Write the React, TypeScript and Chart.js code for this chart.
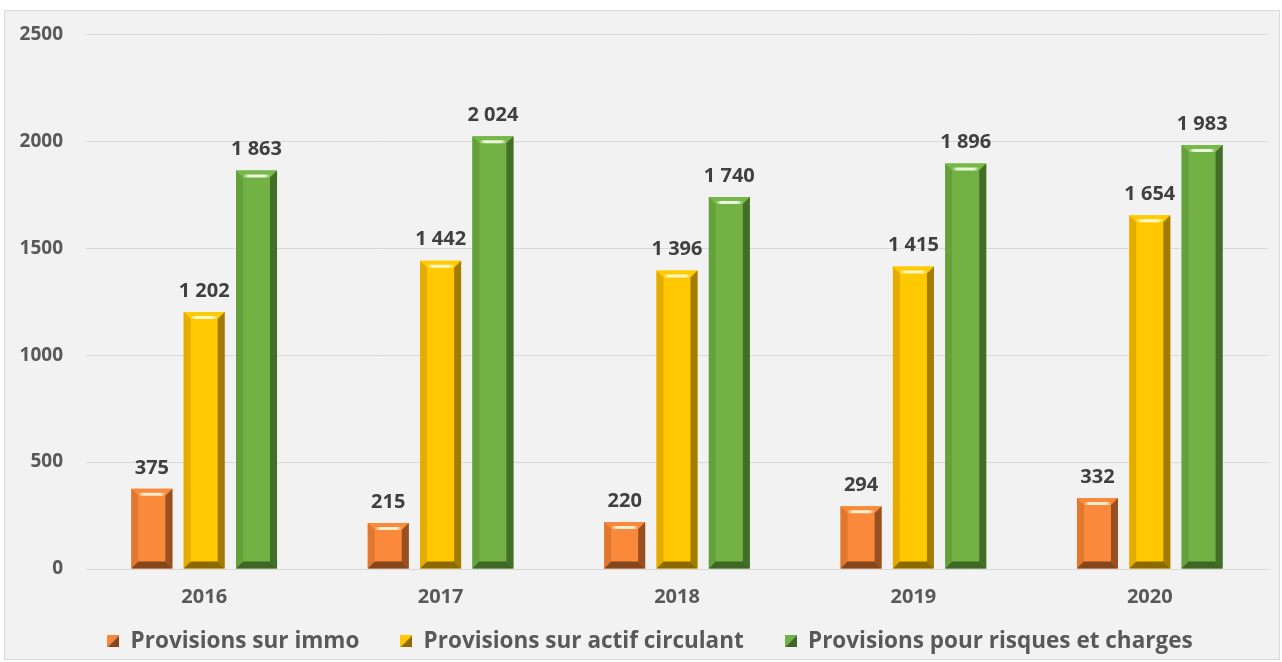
import React, { useEffect, useRef } from 'react';
import { Chart, registerables } from 'chart.js';

Chart.register(...registerables);

// ---- data ----
const years = ['2016', '2017', '2018', '2019', '2020'];
const provisionsImmo = [375, 215, 220, 294, 332];
const provisionsActif = [1202, 1442, 1396, 1415, 1654];
const provisionsRisques = [1863, 2024, 1740, 1896, 1983];
const seriesNames = [
  'Provisions sur immo',
  'Provisions sur actif circulant',
  'Provisions pour risques et charges',
];
const yMax = 2500;
const yStep = 500;

// ---- styles ----
const FONT = "'Open Sans', sans-serif";
const palettes = [
  { face: '#FA893B', top: '#F98A3A', hi: '#FFEFD0', left: '#E0772F', right: '#985020', bottom: '#86461B' },
  { face: '#FFC800', top: '#FFCB05', hi: '#FFF8C8', left: '#E4AC00', right: '#A27C00', bottom: '#8C6A00' },
  { face: '#72B245', top: '#78B84A', hi: '#EAF6DC', left: '#64A03B', right: '#426E28', bottom: '#3E6625' },
];

function fmt(v: number): string {
  return String(v).replace(/\B(?=(\d{3})+(?!\d))/g, ' ');
}

function makeMarker(p: { face: string; bottom: string }): HTMLCanvasElement {
  const c = document.createElement('canvas');
  c.width = 12;
  c.height = 12;
  const g = c.getContext('2d')!;
  g.fillStyle = p.face;
  g.beginPath();
  g.moveTo(0, 0); g.lineTo(12, 0); g.lineTo(0, 12); g.closePath();
  g.fill();
  g.fillStyle = p.bottom;
  g.beginPath();
  g.moveTo(12, 0); g.lineTo(12, 12); g.lineTo(0, 12); g.closePath();
  g.fill();
  return c;
}

function poly(ctx: CanvasRenderingContext2D, pts: number[][], color: string | CanvasGradient) {
  ctx.beginPath();
  ctx.moveTo(pts[0][0], pts[0][1]);
  for (let i = 1; i < pts.length; i++) ctx.lineTo(pts[i][0], pts[i][1]);
  ctx.closePath();
  ctx.fillStyle = color;
  ctx.fill();
}

const bevelPlugin = {
  id: 'bevel',
  afterDatasetsDraw(chart: any) {
    const ctx: CanvasRenderingContext2D = chart.ctx;
    ctx.save();
    chart.data.datasets.forEach((_ds: any, di: number) => {
      const meta = chart.getDatasetMeta(di);
      const pal = palettes[di];
      meta.data.forEach((bar: any) => {
        const { x, y, base, width } = bar.getProps(['x', 'y', 'base', 'width'], true);
        const l = x - width / 2;
        const r = x + width / 2;
        const t = Math.min(y, base);
        const bt = Math.max(y, base);
        const b = Math.min(7, width / 4, (bt - t) / 3);
        poly(ctx, [[l, t], [r, t], [r - b, t + b], [l + b, t + b]], pal.top);
        poly(ctx, [[l, t], [l + b, t + b], [l + b, bt - b], [l, bt]], pal.left);
        poly(ctx, [[r, t], [r, bt], [r - b, bt - b], [r - b, t + b]], pal.right);
        poly(ctx, [[l, bt], [l + b, bt - b], [r - b, bt - b], [r, bt]], pal.bottom);
        const grad = ctx.createLinearGradient(l + b, 0, r - b, 0);
        grad.addColorStop(0, 'rgba(255,255,255,0)');
        grad.addColorStop(0.2, pal.hi);
        grad.addColorStop(0.8, pal.hi);
        grad.addColorStop(1, 'rgba(255,255,255,0)');
        poly(ctx, [[l + b - 1, t + b - 3], [r - b + 1, t + b - 3], [r - b, t + b], [l + b, t + b]], grad);
      });
    });
    ctx.restore();
  },
};

const labelPlugin = {
  id: 'valueLabels',
  afterDatasetsDraw(chart: any) {
    const ctx: CanvasRenderingContext2D = chart.ctx;
    ctx.save();
    ctx.font = `bold 20px ${FONT}`;
    ctx.fillStyle = '#404040';
    ctx.textAlign = 'center';
    ctx.textBaseline = 'middle';
    chart.data.datasets.forEach((ds: any, di: number) => {
      const meta = chart.getDatasetMeta(di);
      meta.data.forEach((bar: any, i: number) => {
        const { x, y } = bar.getProps(['x', 'y'], true);
        ctx.fillText(fmt(ds.data[i]), x, y - 21);
      });
    });
    ctx.restore();
  },
};

// move the legend up/right to sit where the reference has it
const legendShiftPlugin = {
  id: 'legendShift',
  afterLayout(chart: any) {
    const lg = chart.legend;
    if (!lg) return;
    lg.top -= 20;
    lg.height += 20;
    lg.left += 16;
    lg.right += 16;
  },
};

export default function App() {
  const ref = useRef<HTMLCanvasElement>(null);

  useEffect(() => {
    if (!ref.current) return;
    const series = [provisionsImmo, provisionsActif, provisionsRisques];
    const chart = new Chart(ref.current, {
      type: 'bar',
      data: {
        labels: years,
        datasets: series.map((d, i) => ({
          label: seriesNames[i],
          data: d,
          backgroundColor: palettes[i].face,
          borderWidth: 0,
          categoryPercentage: 0.664,
          barPercentage: 0.784,
          pointStyle: makeMarker(palettes[i]) as any,
        })),
      },
      options: {
        responsive: false,
        animation: false,
        layout: { padding: { left: 0, right: 14, top: 32, bottom: 0 } },
        plugins: {
          tooltip: { enabled: false },
          legend: {
            position: 'bottom',
            maxHeight: 53,
            labels: {
              usePointStyle: true,
              boxWidth: 12,
              boxHeight: 12,
              padding: 41,
              color: '#595959',
              font: { family: FONT, size: 22.5, weight: 'bold' },
            },
          },
        },
        scales: {
          x: {
            grid: { display: false, drawTicks: false },
            border: { display: false },
            ticks: {
              color: '#595959',
              padding: 16,
              font: { family: FONT, size: 20, weight: 'bold' },
            },
            afterFit: (s: any) => { s.height = 40; },
          },
          y: {
            min: 0,
            max: yMax,
            ticks: {
              stepSize: yStep,
              padding: 23,
              color: '#595959',
              font: { family: FONT, size: 19, weight: 'bold' },
              callback: (v: any) => String(v),
            },
            grid: { color: '#d9d9d9', lineWidth: 1, drawTicks: false },
            border: { display: false },
            afterFit: (s: any) => { s.width = 86; },
          },
        },
      },
      plugins: [bevelPlugin, labelPlugin, legendShiftPlugin],
    });
    return () => chart.destroy();
  }, []);

  return (
    <div style={{ position: 'fixed', left: 0, top: 0, width: 1282, height: 662, background: '#ffffff' }}>
      <div
        style={{
          position: 'absolute',
          left: 4,
          top: 10,
          width: 1274,
          height: 648,
          background: '#f2f2f2',
          border: '1px solid #d9d9d9',
        }}
      />
      <canvas ref={ref} width={1282} height={662} style={{ position: 'absolute', left: 0, top: 0 }} />
    </div>
  );
}
